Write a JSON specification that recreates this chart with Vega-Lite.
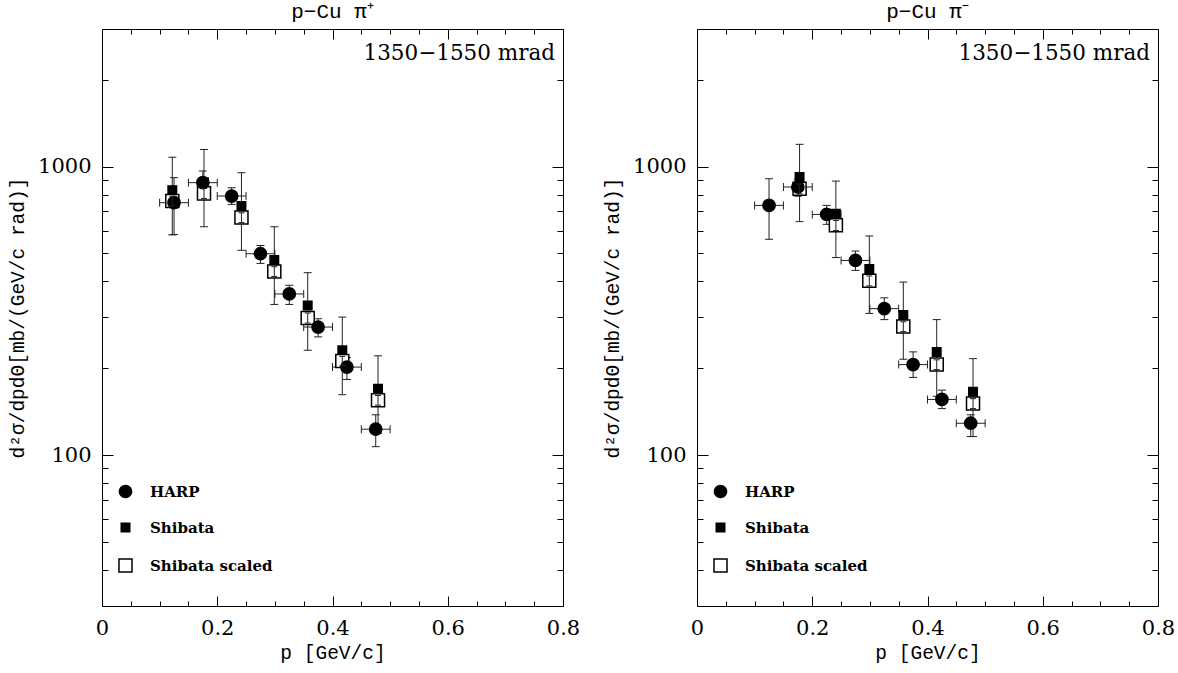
{
  "$schema": "https://vega.github.io/schema/vega-lite/v6.json",
  "padding": {"left": 7, "top": 0, "right": 20, "bottom": 5},
  "datasets": {
    "pip": [
      {"series": "Shibata", "p": 0.122, "v": 829, "lo": 580, "hi": 1078},
      {"series": "Shibata", "p": 0.177, "v": 883, "lo": 619, "hi": 1147},
      {"series": "Shibata", "p": 0.242, "v": 731, "lo": 513, "hi": 953},
      {"series": "Shibata", "p": 0.299, "v": 475, "lo": 333, "hi": 619},
      {"series": "Shibata", "p": 0.357, "v": 330, "lo": 231, "hi": 429},
      {"series": "Shibata", "p": 0.417, "v": 231, "lo": 162, "hi": 301},
      {"series": "Shibata", "p": 0.479, "v": 170, "lo": 119, "hi": 221},
      {"series": "Shibata scaled", "p": 0.122, "v": 760, "lo": 730, "hi": 790},
      {"series": "Shibata scaled", "p": 0.177, "v": 808, "lo": 776, "hi": 840},
      {"series": "Shibata scaled", "p": 0.242, "v": 666, "lo": 640, "hi": 692},
      {"series": "Shibata scaled", "p": 0.299, "v": 433, "lo": 416, "hi": 450},
      {"series": "Shibata scaled", "p": 0.357, "v": 299, "lo": 287, "hi": 311},
      {"series": "Shibata scaled", "p": 0.417, "v": 212, "lo": 204, "hi": 220},
      {"series": "Shibata scaled", "p": 0.479, "v": 155, "lo": 149, "hi": 161},
      {"series": "HARP", "p": 0.125, "v": 750, "lo": 582, "hi": 916, "plo": 0.1, "phi": 0.15},
      {"series": "HARP", "p": 0.175, "v": 880, "lo": 801, "hi": 966, "plo": 0.15, "phi": 0.2},
      {"series": "HARP", "p": 0.225, "v": 791, "lo": 740, "hi": 845, "plo": 0.2, "phi": 0.25},
      {"series": "HARP", "p": 0.275, "v": 499, "lo": 462, "hi": 533, "plo": 0.25, "phi": 0.3},
      {"series": "HARP", "p": 0.325, "v": 362, "lo": 333, "hi": 388, "plo": 0.3, "phi": 0.35},
      {"series": "HARP", "p": 0.375, "v": 278, "lo": 257, "hi": 297, "plo": 0.35, "phi": 0.4},
      {"series": "HARP", "p": 0.425, "v": 202, "lo": 183, "hi": 218, "plo": 0.4, "phi": 0.45},
      {"series": "HARP", "p": 0.475, "v": 123, "lo": 107, "hi": 138, "plo": 0.45, "phi": 0.5}
    ],
    "pim": [
      {"series": "Shibata", "p": 0.178, "v": 920, "lo": 645, "hi": 1195},
      {"series": "Shibata", "p": 0.241, "v": 687, "lo": 484, "hi": 891},
      {"series": "Shibata", "p": 0.299, "v": 442, "lo": 310, "hi": 575},
      {"series": "Shibata", "p": 0.358, "v": 306, "lo": 215, "hi": 398},
      {"series": "Shibata", "p": 0.416, "v": 228, "lo": 160, "hi": 295},
      {"series": "Shibata", "p": 0.479, "v": 166, "lo": 116, "hi": 216},
      {"series": "Shibata scaled", "p": 0.178, "v": 838, "lo": 805, "hi": 871},
      {"series": "Shibata scaled", "p": 0.241, "v": 626, "lo": 601, "hi": 651},
      {"series": "Shibata scaled", "p": 0.299, "v": 402, "lo": 386, "hi": 418},
      {"series": "Shibata scaled", "p": 0.358, "v": 279, "lo": 268, "hi": 290},
      {"series": "Shibata scaled", "p": 0.416, "v": 206, "lo": 198, "hi": 214},
      {"series": "Shibata scaled", "p": 0.479, "v": 151, "lo": 145, "hi": 157},
      {"series": "HARP", "p": 0.125, "v": 734, "lo": 560, "hi": 908, "plo": 0.1, "phi": 0.15},
      {"series": "HARP", "p": 0.175, "v": 850, "lo": 790, "hi": 905, "plo": 0.15, "phi": 0.2},
      {"series": "HARP", "p": 0.225, "v": 683, "lo": 631, "hi": 734, "plo": 0.2, "phi": 0.25},
      {"series": "HARP", "p": 0.275, "v": 473, "lo": 437, "hi": 510, "plo": 0.25, "phi": 0.3},
      {"series": "HARP", "p": 0.325, "v": 322, "lo": 295, "hi": 351, "plo": 0.3, "phi": 0.35},
      {"series": "HARP", "p": 0.375, "v": 206, "lo": 186, "hi": 228, "plo": 0.35, "phi": 0.4},
      {"series": "HARP", "p": 0.425, "v": 156, "lo": 145, "hi": 168, "plo": 0.4, "phi": 0.45},
      {"series": "HARP", "p": 0.475, "v": 129, "lo": 116, "hi": 138, "plo": 0.45, "phi": 0.5}
    ]
  },
  "spacing": 134,
  "bounds": "flush",
  "resolve": {
    "scale": {"shape": "independent", "fill": "independent", "size": "independent", "stroke": "independent"},
    "legend": {"shape": "independent", "fill": "independent", "size": "independent", "stroke": "independent"}
  },
  "hconcat": [
    {
      "width": 461, "height": 577,
      "title": {"text": "p−Cu π⁺", "frame": "group", "offset": 7},
      "data": {"name": "pip"},
      "resolve": {"axis": {"x": "independent", "y": "independent"}},
      "layer": [
        {"transform": [{"filter": "datum.series === 'Shibata'"}],
         "mark": {"type": "rule", "color": "#222", "strokeWidth": 1},
         "encoding": {
           "x": {"field": "p", "type": "quantitative", "scale": {"domain": [0, 0.8], "nice": false, "zero": false},
                 "axis": {"orient": "bottom", "values": [0, 0.2, 0.4, 0.6, 0.8], "format": ".1~f", "title": "p [GeV/c]", "tickSize": -10, "labelPadding": 21, "titlePadding": 5, "labelFlush": false, "domain": true}},
           "y": {"field": "lo", "type": "quantitative", "scale": {"type": "log", "domain": [30, 3000], "nice": false},
                 "axis": {"orient": "left", "values": [100, 1000], "format": "d", "title": "d²σ/dpdΘ[mb/(GeV/c rad)]", "tickSize": -11, "labelPadding": 22, "titlePadding": 10, "domain": true}},
           "y2": {"field": "hi"}
         }},
        {"transform": [{"filter": "datum.series === 'Shibata'"}],
         "mark": {"type": "tick", "orient": "horizontal", "size": 8, "thickness": 1, "color": "#222", "opacity": 1},
         "encoding": {
           "x": {"field": "p", "type": "quantitative", "scale": {"domain": [0, 0.8], "nice": false, "zero": false},
                 "axis": {"orient": "bottom", "values": [0.05, 0.1, 0.15, 0.25, 0.3, 0.35, 0.45, 0.5, 0.55, 0.65, 0.7, 0.75], "labels": false, "title": null, "domain": false, "tickSize": -5}},
           "y": {"field": "lo", "type": "quantitative", "scale": {"type": "log", "domain": [30, 3000], "nice": false},
                 "axis": {"orient": "left", "values": [40, 50, 60, 70, 80, 90, 200, 300, 400, 500, 600, 700, 800, 900, 2000], "labels": false, "title": null, "domain": false, "tickSize": -6}}
         }},
        {"transform": [{"filter": "datum.series === 'Shibata'"}],
         "mark": {"type": "tick", "orient": "horizontal", "size": 8, "thickness": 1, "color": "#222", "opacity": 1},
         "encoding": {
           "x": {"field": "p", "type": "quantitative", "scale": {"domain": [0, 0.8], "nice": false, "zero": false},
                 "axis": {"orient": "top", "values": [0, 0.2, 0.4, 0.6, 0.8], "labels": false, "title": null, "domain": true, "tickSize": -10}},
           "y": {"field": "hi", "type": "quantitative", "scale": {"type": "log", "domain": [30, 3000], "nice": false},
                 "axis": {"orient": "right", "values": [100, 1000], "labels": false, "title": null, "domain": true, "tickSize": -11}}
         }},
        {"transform": [{"filter": "datum.series === 'HARP'"}],
         "mark": {"type": "rule", "color": "#222", "strokeWidth": 1},
         "encoding": {
           "x": {"field": "p", "type": "quantitative", "scale": {"domain": [0, 0.8], "nice": false, "zero": false},
                 "axis": {"orient": "top", "values": [0.05, 0.1, 0.15, 0.25, 0.3, 0.35, 0.45, 0.5, 0.55, 0.65, 0.7, 0.75], "labels": false, "title": null, "domain": false, "tickSize": -5}},
           "y": {"field": "lo", "type": "quantitative", "scale": {"type": "log", "domain": [30, 3000], "nice": false},
                 "axis": {"orient": "right", "values": [40, 50, 60, 70, 80, 90, 200, 300, 400, 500, 600, 700, 800, 900, 2000], "labels": false, "title": null, "domain": false, "tickSize": -6}},
           "y2": {"field": "hi"}
         }},
        {"transform": [{"filter": "datum.series === 'HARP'"}],
         "mark": {"type": "rule", "color": "#222", "strokeWidth": 1},
         "encoding": {
           "x": {"field": "plo", "type": "quantitative", "scale": {"domain": [0, 0.8], "nice": false, "zero": false}, "axis": null},
           "x2": {"field": "phi"},
           "y": {"field": "v", "type": "quantitative", "scale": {"type": "log", "domain": [30, 3000], "nice": false}, "axis": null}
         }},
        {"transform": [{"filter": "datum.series === 'HARP'"}],
         "mark": {"type": "tick", "orient": "horizontal", "size": 8, "thickness": 1, "color": "#222", "opacity": 1},
         "encoding": {
           "x": {"field": "p", "type": "quantitative", "scale": {"domain": [0, 0.8], "nice": false, "zero": false}, "axis": null},
           "y": {"field": "lo", "type": "quantitative", "scale": {"type": "log", "domain": [30, 3000], "nice": false}, "axis": null}
         }},
        {"transform": [{"filter": "datum.series === 'HARP'"}],
         "mark": {"type": "tick", "orient": "horizontal", "size": 8, "thickness": 1, "color": "#222", "opacity": 1},
         "encoding": {
           "x": {"field": "p", "type": "quantitative", "scale": {"domain": [0, 0.8], "nice": false, "zero": false}, "axis": null},
           "y": {"field": "hi", "type": "quantitative", "scale": {"type": "log", "domain": [30, 3000], "nice": false}, "axis": null}
         }},
        {"transform": [{"filter": "datum.series === 'HARP'"}],
         "mark": {"type": "tick", "orient": "vertical", "size": 8, "thickness": 1, "color": "#222", "opacity": 1},
         "encoding": {
           "x": {"field": "plo", "type": "quantitative", "scale": {"domain": [0, 0.8], "nice": false, "zero": false}, "axis": null},
           "y": {"field": "v", "type": "quantitative", "scale": {"type": "log", "domain": [30, 3000], "nice": false}, "axis": null}
         }},
        {"transform": [{"filter": "datum.series === 'HARP'"}],
         "mark": {"type": "tick", "orient": "vertical", "size": 8, "thickness": 1, "color": "#222", "opacity": 1},
         "encoding": {
           "x": {"field": "phi", "type": "quantitative", "scale": {"domain": [0, 0.8], "nice": false, "zero": false}, "axis": null},
           "y": {"field": "v", "type": "quantitative", "scale": {"type": "log", "domain": [30, 3000], "nice": false}, "axis": null}
         }},
        {"mark": {"type": "point", "filled": true, "opacity": 1, "strokeWidth": 1.5},
         "encoding": {
           "x": {"field": "p", "type": "quantitative", "scale": {"domain": [0, 0.8], "nice": false, "zero": false}, "axis": null},
           "y": {"field": "v", "type": "quantitative", "scale": {"type": "log", "domain": [30, 3000], "nice": false}, "axis": null},
           "shape": {"field": "series", "type": "nominal", "scale": {"domain": ["HARP", "Shibata", "Shibata scaled"], "range": ["circle", "square", "square"]},
                     "legend": {"title": null, "orient": "none", "legendX": 16, "legendY": 455, "rowPadding": 19, "labelOffset": 17, "padding": 0}},
           "fill": {"field": "series", "type": "nominal", "scale": {"domain": ["HARP", "Shibata", "Shibata scaled"], "range": ["black", "black", "white"]},
                    "legend": {"title": null, "orient": "none", "legendX": 16, "legendY": 455, "rowPadding": 19, "labelOffset": 17, "padding": 0}},
           "stroke": {"field": "series", "type": "nominal", "scale": {"domain": ["HARP", "Shibata", "Shibata scaled"], "range": ["black", "black", "black"]},
                      "legend": {"title": null, "orient": "none", "legendX": 16, "legendY": 455, "rowPadding": 19, "labelOffset": 17, "padding": 0}},
           "size": {"field": "series", "type": "nominal", "scale": {"type": "ordinal", "domain": ["HARP", "Shibata", "Shibata scaled"], "range": [150, 72, 170]},
                    "legend": {"title": null, "orient": "none", "legendX": 16, "legendY": 455, "rowPadding": 19, "labelOffset": 17, "padding": 0}}
         }},
        {"transform": [{"filter": "datum.series === 'Shibata scaled'"}],
         "mark": {"type": "rule", "color": "#222", "strokeWidth": 1},
         "encoding": {
           "x": {"field": "p", "type": "quantitative", "scale": {"domain": [0, 0.8], "nice": false, "zero": false}, "axis": null},
           "y": {"field": "lo", "type": "quantitative", "scale": {"type": "log", "domain": [30, 3000], "nice": false}, "axis": null},
           "y2": {"field": "hi"}
         }},
        {"transform": [{"filter": "datum.series === 'Shibata scaled'"}],
         "mark": {"type": "tick", "orient": "horizontal", "size": 6, "thickness": 1, "color": "#222", "opacity": 1},
         "encoding": {
           "x": {"field": "p", "type": "quantitative", "scale": {"domain": [0, 0.8], "nice": false, "zero": false}, "axis": null},
           "y": {"field": "lo", "type": "quantitative", "scale": {"type": "log", "domain": [30, 3000], "nice": false}, "axis": null}
         }},
        {"transform": [{"filter": "datum.series === 'Shibata scaled'"}],
         "mark": {"type": "tick", "orient": "horizontal", "size": 6, "thickness": 1, "color": "#222", "opacity": 1},
         "encoding": {
           "x": {"field": "p", "type": "quantitative", "scale": {"domain": [0, 0.8], "nice": false, "zero": false}, "axis": null},
           "y": {"field": "hi", "type": "quantitative", "scale": {"type": "log", "domain": [30, 3000], "nice": false}, "axis": null}
         }},
        {"data": {"values": [{"label": "1350−1550 mrad"}]},
         "mark": {"type": "text", "align": "right", "baseline": "alphabetic", "dx": -8, "dy": 31, "fontSize": 21.5, "color": "black"},
         "encoding": {
           "x": {"datum": 0.8, "type": "quantitative", "scale": {"domain": [0, 0.8], "nice": false, "zero": false}, "axis": null},
           "y": {"datum": 3000, "type": "quantitative", "scale": {"type": "log", "domain": [30, 3000], "nice": false}, "axis": null},
           "text": {"field": "label"}
         }}
      ]
    },
    {
      "width": 461, "height": 577,
      "title": {"text": "p−Cu π⁻", "frame": "group", "offset": 7},
      "data": {"name": "pim"},
      "resolve": {"axis": {"x": "independent", "y": "independent"}},
      "layer": [
        {"transform": [{"filter": "datum.series === 'Shibata'"}],
         "mark": {"type": "rule", "color": "#222", "strokeWidth": 1},
         "encoding": {
           "x": {"field": "p", "type": "quantitative", "scale": {"domain": [0, 0.8], "nice": false, "zero": false},
                 "axis": {"orient": "bottom", "values": [0, 0.2, 0.4, 0.6, 0.8], "format": ".1~f", "title": "p [GeV/c]", "tickSize": -10, "labelPadding": 21, "titlePadding": 5, "labelFlush": false, "domain": true}},
           "y": {"field": "lo", "type": "quantitative", "scale": {"type": "log", "domain": [30, 3000], "nice": false},
                 "axis": {"orient": "left", "values": [100, 1000], "format": "d", "title": "d²σ/dpdΘ[mb/(GeV/c rad)]", "tickSize": -11, "labelPadding": 22, "titlePadding": 10, "domain": true}},
           "y2": {"field": "hi"}
         }},
        {"transform": [{"filter": "datum.series === 'Shibata'"}],
         "mark": {"type": "tick", "orient": "horizontal", "size": 8, "thickness": 1, "color": "#222", "opacity": 1},
         "encoding": {
           "x": {"field": "p", "type": "quantitative", "scale": {"domain": [0, 0.8], "nice": false, "zero": false},
                 "axis": {"orient": "bottom", "values": [0.05, 0.1, 0.15, 0.25, 0.3, 0.35, 0.45, 0.5, 0.55, 0.65, 0.7, 0.75], "labels": false, "title": null, "domain": false, "tickSize": -5}},
           "y": {"field": "lo", "type": "quantitative", "scale": {"type": "log", "domain": [30, 3000], "nice": false},
                 "axis": {"orient": "left", "values": [40, 50, 60, 70, 80, 90, 200, 300, 400, 500, 600, 700, 800, 900, 2000], "labels": false, "title": null, "domain": false, "tickSize": -6}}
         }},
        {"transform": [{"filter": "datum.series === 'Shibata'"}],
         "mark": {"type": "tick", "orient": "horizontal", "size": 8, "thickness": 1, "color": "#222", "opacity": 1},
         "encoding": {
           "x": {"field": "p", "type": "quantitative", "scale": {"domain": [0, 0.8], "nice": false, "zero": false},
                 "axis": {"orient": "top", "values": [0, 0.2, 0.4, 0.6, 0.8], "labels": false, "title": null, "domain": true, "tickSize": -10}},
           "y": {"field": "hi", "type": "quantitative", "scale": {"type": "log", "domain": [30, 3000], "nice": false},
                 "axis": {"orient": "right", "values": [100, 1000], "labels": false, "title": null, "domain": true, "tickSize": -11}}
         }},
        {"transform": [{"filter": "datum.series === 'HARP'"}],
         "mark": {"type": "rule", "color": "#222", "strokeWidth": 1},
         "encoding": {
           "x": {"field": "p", "type": "quantitative", "scale": {"domain": [0, 0.8], "nice": false, "zero": false},
                 "axis": {"orient": "top", "values": [0.05, 0.1, 0.15, 0.25, 0.3, 0.35, 0.45, 0.5, 0.55, 0.65, 0.7, 0.75], "labels": false, "title": null, "domain": false, "tickSize": -5}},
           "y": {"field": "lo", "type": "quantitative", "scale": {"type": "log", "domain": [30, 3000], "nice": false},
                 "axis": {"orient": "right", "values": [40, 50, 60, 70, 80, 90, 200, 300, 400, 500, 600, 700, 800, 900, 2000], "labels": false, "title": null, "domain": false, "tickSize": -6}},
           "y2": {"field": "hi"}
         }},
        {"transform": [{"filter": "datum.series === 'HARP'"}],
         "mark": {"type": "rule", "color": "#222", "strokeWidth": 1},
         "encoding": {
           "x": {"field": "plo", "type": "quantitative", "scale": {"domain": [0, 0.8], "nice": false, "zero": false}, "axis": null},
           "x2": {"field": "phi"},
           "y": {"field": "v", "type": "quantitative", "scale": {"type": "log", "domain": [30, 3000], "nice": false}, "axis": null}
         }},
        {"transform": [{"filter": "datum.series === 'HARP'"}],
         "mark": {"type": "tick", "orient": "horizontal", "size": 8, "thickness": 1, "color": "#222", "opacity": 1},
         "encoding": {
           "x": {"field": "p", "type": "quantitative", "scale": {"domain": [0, 0.8], "nice": false, "zero": false}, "axis": null},
           "y": {"field": "lo", "type": "quantitative", "scale": {"type": "log", "domain": [30, 3000], "nice": false}, "axis": null}
         }},
        {"transform": [{"filter": "datum.series === 'HARP'"}],
         "mark": {"type": "tick", "orient": "horizontal", "size": 8, "thickness": 1, "color": "#222", "opacity": 1},
         "encoding": {
           "x": {"field": "p", "type": "quantitative", "scale": {"domain": [0, 0.8], "nice": false, "zero": false}, "axis": null},
           "y": {"field": "hi", "type": "quantitative", "scale": {"type": "log", "domain": [30, 3000], "nice": false}, "axis": null}
         }},
        {"transform": [{"filter": "datum.series === 'HARP'"}],
         "mark": {"type": "tick", "orient": "vertical", "size": 8, "thickness": 1, "color": "#222", "opacity": 1},
         "encoding": {
           "x": {"field": "plo", "type": "quantitative", "scale": {"domain": [0, 0.8], "nice": false, "zero": false}, "axis": null},
           "y": {"field": "v", "type": "quantitative", "scale": {"type": "log", "domain": [30, 3000], "nice": false}, "axis": null}
         }},
        {"transform": [{"filter": "datum.series === 'HARP'"}],
         "mark": {"type": "tick", "orient": "vertical", "size": 8, "thickness": 1, "color": "#222", "opacity": 1},
         "encoding": {
           "x": {"field": "phi", "type": "quantitative", "scale": {"domain": [0, 0.8], "nice": false, "zero": false}, "axis": null},
           "y": {"field": "v", "type": "quantitative", "scale": {"type": "log", "domain": [30, 3000], "nice": false}, "axis": null}
         }},
        {"mark": {"type": "point", "filled": true, "opacity": 1, "strokeWidth": 1.5},
         "encoding": {
           "x": {"field": "p", "type": "quantitative", "scale": {"domain": [0, 0.8], "nice": false, "zero": false}, "axis": null},
           "y": {"field": "v", "type": "quantitative", "scale": {"type": "log", "domain": [30, 3000], "nice": false}, "axis": null},
           "shape": {"field": "series", "type": "nominal", "scale": {"domain": ["HARP", "Shibata", "Shibata scaled"], "range": ["circle", "square", "square"]},
                     "legend": {"title": null, "orient": "none", "legendX": 16, "legendY": 455, "rowPadding": 19, "labelOffset": 17, "padding": 0}},
           "fill": {"field": "series", "type": "nominal", "scale": {"domain": ["HARP", "Shibata", "Shibata scaled"], "range": ["black", "black", "white"]},
                    "legend": {"title": null, "orient": "none", "legendX": 16, "legendY": 455, "rowPadding": 19, "labelOffset": 17, "padding": 0}},
           "stroke": {"field": "series", "type": "nominal", "scale": {"domain": ["HARP", "Shibata", "Shibata scaled"], "range": ["black", "black", "black"]},
                      "legend": {"title": null, "orient": "none", "legendX": 16, "legendY": 455, "rowPadding": 19, "labelOffset": 17, "padding": 0}},
           "size": {"field": "series", "type": "nominal", "scale": {"type": "ordinal", "domain": ["HARP", "Shibata", "Shibata scaled"], "range": [150, 72, 170]},
                    "legend": {"title": null, "orient": "none", "legendX": 16, "legendY": 455, "rowPadding": 19, "labelOffset": 17, "padding": 0}}
         }},
        {"transform": [{"filter": "datum.series === 'Shibata scaled'"}],
         "mark": {"type": "rule", "color": "#222", "strokeWidth": 1},
         "encoding": {
           "x": {"field": "p", "type": "quantitative", "scale": {"domain": [0, 0.8], "nice": false, "zero": false}, "axis": null},
           "y": {"field": "lo", "type": "quantitative", "scale": {"type": "log", "domain": [30, 3000], "nice": false}, "axis": null},
           "y2": {"field": "hi"}
         }},
        {"transform": [{"filter": "datum.series === 'Shibata scaled'"}],
         "mark": {"type": "tick", "orient": "horizontal", "size": 6, "thickness": 1, "color": "#222", "opacity": 1},
         "encoding": {
           "x": {"field": "p", "type": "quantitative", "scale": {"domain": [0, 0.8], "nice": false, "zero": false}, "axis": null},
           "y": {"field": "lo", "type": "quantitative", "scale": {"type": "log", "domain": [30, 3000], "nice": false}, "axis": null}
         }},
        {"transform": [{"filter": "datum.series === 'Shibata scaled'"}],
         "mark": {"type": "tick", "orient": "horizontal", "size": 6, "thickness": 1, "color": "#222", "opacity": 1},
         "encoding": {
           "x": {"field": "p", "type": "quantitative", "scale": {"domain": [0, 0.8], "nice": false, "zero": false}, "axis": null},
           "y": {"field": "hi", "type": "quantitative", "scale": {"type": "log", "domain": [30, 3000], "nice": false}, "axis": null}
         }},
        {"data": {"values": [{"label": "1350−1550 mrad"}]},
         "mark": {"type": "text", "align": "right", "baseline": "alphabetic", "dx": -8, "dy": 31, "fontSize": 21.5, "color": "black"},
         "encoding": {
           "x": {"datum": 0.8, "type": "quantitative", "scale": {"domain": [0, 0.8], "nice": false, "zero": false}, "axis": null},
           "y": {"datum": 3000, "type": "quantitative", "scale": {"type": "log", "domain": [30, 3000], "nice": false}, "axis": null},
           "text": {"field": "label"}
         }}
      ]
    }
  ],
  "config": {
    "font": "DejaVu Serif",
    "view": {"stroke": null},
    "axis": {"grid": false, "domainColor": "black", "domainWidth": 1, "tickColor": "black", "tickWidth": 1,
             "labelColor": "black", "titleColor": "black", "labelFont": "DejaVu Serif", "titleFont": "Liberation Mono",
             "labelFontSize": 21, "titleFontSize": 19.5, "titleFontWeight": "normal"},
    "title": {"font": "Liberation Mono", "fontSize": 21, "fontWeight": "normal", "color": "black"},
    "legend": {"labelFont": "DejaVu Serif", "labelFontSize": 15, "labelFontWeight": "bold", "labelColor": "black",
               "symbolStrokeWidth": 1.5}
  }
}
